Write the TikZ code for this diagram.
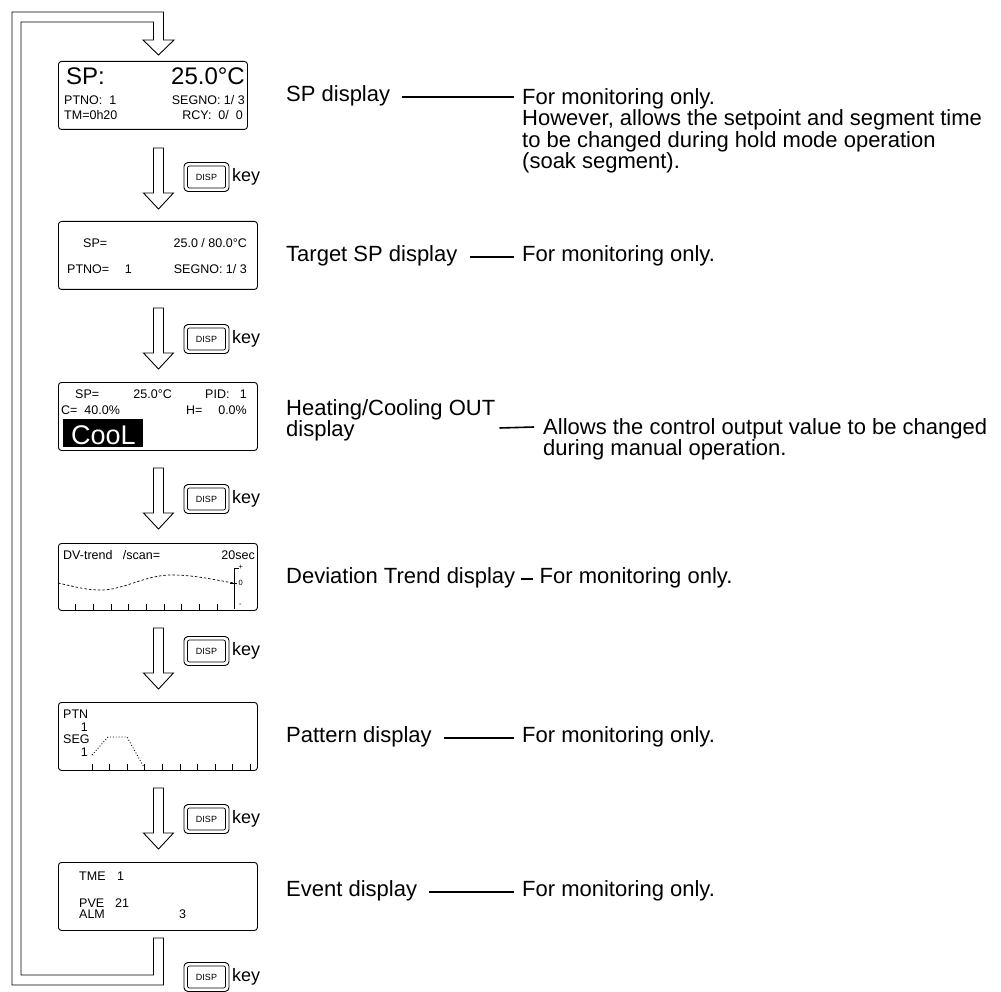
\documentclass[tikz,border=0pt]{standalone}
\usepackage{fontspec}
\setmainfont{Liberation Sans}
\usetikzlibrary{calc}
\tikzset{
  lcd/.style={draw, rounded corners=3pt, line width=0.9pt, minimum height=68pt, inner sep=0pt, anchor=north west},
  sm/.style={font=\fontsize{12.5}{13}\selectfont, inner sep=0pt},
  bigtxt/.style={font=\fontsize{24}{24}\selectfont, inner sep=0pt},
  lbl/.style={font=\fontsize{22}{20.5}\selectfont, inner sep=0pt, align=left},
  keylbl/.style={font=\fontsize{18}{18}\selectfont, inner sep=0pt},
  tiny/.style={font=\fontsize{7.5}{7.5}\selectfont, inner sep=0pt},
  hollow/.style={draw, line width=0.9pt, fill=white},
  keybox/.style={draw, rounded corners=4pt, line width=0.9pt, minimum width=45pt, minimum height=29pt, inner sep=0pt},
  keyin/.style={draw, rounded corners=2pt, line width=0.7pt, minimum width=38pt, minimum height=22pt, inner sep=0pt, font=\fontsize{9}{9}\selectfont},
  conn/.style={line width=1.6pt},
  tick/.style={line width=0.7pt},
}
\newcommand\HollowArrow[2]{% #1 = shaft top y, #2 = centre x
  \draw[hollow] (#2-5,#1) -- (#2-5,#1+45) -- (#2-15,#1+45) -- (#2,#1+61) -- (#2+15,#1+45) -- (#2+5,#1+45) -- (#2+5,#1) -- cycle;}
\newcommand\DispKey[2]{% #1 = name, #2 = centre y
  \node[keybox] (#1) at (206.5,#2) {};
  \node[keyin] (#1in) at (206.5,#2) {DISP};
  \node[keylbl, anchor=west] (#1txt) at (232,#2) {key};}
\begin{document}
\begin{tikzpicture}[x=1pt,y=-1pt]
\useasboundingbox (0,0) rectangle (1001,992);

% ---------- return loop ----------
\draw[hollow] (153.5,938) -- (153.5,975) -- (21,975) -- (21,22) -- (153.5,22) -- (153.5,40)
  -- (143,40) -- (158.5,55) -- (174,40) -- (163.5,40) -- (163.5,12) -- (12,12) -- (12,985)
  -- (163.5,985) -- (163.5,938) -- cycle;

% ---------- displays ----------
\node[lcd, minimum width=189pt] (d1) at (58,61) {};
\node[lcd, minimum width=199pt] (d2) at (58,221) {};
\node[lcd, minimum width=199pt] (d3) at (58,382) {};
\node[lcd, minimum width=199pt, minimum height=67pt] (d4) at (58,543) {};
\node[lcd, minimum width=199pt] (d5) at (58,702) {};
\node[lcd, minimum width=199pt] (d6) at (58,862) {};

% arrows between displays
\HollowArrow{148}{158.5}
\HollowArrow{308}{158.5}
\HollowArrow{468}{158.5}
\HollowArrow{628}{158.5}
\HollowArrow{788}{158.5}

% DISP keys
\DispKey{k1}{177}
\DispKey{k2}{339}
\DispKey{k3}{499}
\DispKey{k4}{651}
\DispKey{k5}{819}
\DispKey{k6}{977}

% ---------- display 1 : SP ----------
\node[bigtxt, anchor=base west] (t1a) at (66,85) {SP:};
\node[bigtxt, anchor=base east] (t1b) at (245,85) {25.0°C};
\node[sm, anchor=base west] (t1c) at (64,105) {PTNO:\ \ 1};
\node[sm, anchor=base east] (t1d) at (245,105) {SEGNO: 1/ 3};
\node[sm, anchor=base west] (t1e) at (64,120) {TM=0h20};
\node[sm, anchor=base east] (t1f) at (243,120) {RCY:\ \ 0/\ \ 0};

% ---------- display 2 : target SP ----------
\node[sm, anchor=base west] (t2a) at (83,248) {SP=};
\node[sm, anchor=base east] (t2b) at (247,248) {25.0 / 80.0°C};
\node[sm, anchor=base west] (t2c) at (67,274) {PTNO=};
\node[sm, anchor=base east] (t2d) at (132,274) {1};
\node[sm, anchor=base east] (t2e) at (247,274) {SEGNO: 1/ 3};

% ---------- display 3 : heating / cooling ----------
\node[sm, anchor=base west] (t3a) at (75,398) {SP=};
\node[sm, anchor=base east] (t3b) at (172,398) {25.0°C};
\node[sm, anchor=base west] (t3c) at (205,398) {PID:};
\node[sm, anchor=base east] (t3d) at (247,398) {1};
\node[sm, anchor=base west] (t3e) at (61,414) {C=\ \ 40.0\%};
\node[sm, anchor=base west] (t3f) at (186,414) {H=};
\node[sm, anchor=base east] (t3g) at (247,414) {0.0\%};
\fill (63,419) rectangle (143,447);
\node[font=\fontsize{27}{27}\selectfont, text=white, inner sep=0pt, anchor=base west] (t3h) at (71,444) {CooL};

% ---------- display 4 : deviation trend ----------
\node[sm, anchor=base west] (t4a) at (63,559) {DV-trend\ \ \ /scan=};
\node[sm, anchor=base east] (t4b) at (255,559) {20sec};
\draw[tick] (234,609) -- (234,568) -- (238.5,568);
\draw[tick] (230,583) -- (237,583);
\node[tiny, anchor=west] (t4p) at (238.5,567) {+};
\node[tiny, anchor=west] (t4z) at (238.5,583) {0};
\node[tiny, anchor=west] (t4m) at (239,605) {-};
\foreach \x in {75.5,93.2,110.9,128.6,146.3,164,181.7,199.4,217.1} \draw[tick] (\x,610) -- (\x,604);
\draw[dashed, dash pattern=on 2.5pt off 2pt, line width=0.7pt] (58,583) .. controls (80,588) and (95,592) .. (112,589)
  .. controls (135,584) and (150,575) .. (172,575) .. controls (195,575) and (215,580) .. (234,583);

% ---------- display 5 : pattern ----------
\node[sm, anchor=base west] (t5a) at (63,718) {PTN};
\node[sm, anchor=base east] (t5b) at (88,731) {1};
\node[sm, anchor=base west] (t5c) at (63,743) {SEG};
\node[sm, anchor=base east] (t5d) at (88,756) {1};
\draw[dotted, line width=0.9pt] (92,755) -- (108,737) -- (127,737) -- (145,769);
\foreach \x in {92,109.6,127.2,144.8,162.4,180,197.6,215.2,232.8,250.4} \draw[tick] (\x,770) -- (\x,764);

% ---------- display 6 : event ----------
\node[sm, anchor=base west] (t6a) at (79,880) {TME};
\node[sm, anchor=base west] (t6b) at (117,880) {1};
\node[sm, anchor=base west] (t6c) at (79,907) {PVE};
\node[sm, anchor=base west] (t6d) at (115,907) {21};
\node[sm, anchor=base west] (t6e) at (79,918) {ALM};
\node[sm, anchor=base west] (t6f) at (179,918) {3};

% ---------- right-hand labels ----------
\node[lbl, anchor=west] (l1) at (286,96) {SP display};
\node[lbl, anchor=north west] (r1) at (522,88) {For monitoring only.\\However, allows the setpoint and segment time\\to be changed during hold mode operation\\(soak segment).};
\draw[conn] ($(l1.east)+(12,1)$) -- ($(r1.north west)+(-8,9)$);

\node[lbl, anchor=west] (l2) at (286,256) {Target SP display};
\node[lbl, anchor=west] (r2) at (522,256) {For monitoring only.};
\draw[conn] ($(l2.east)+(12,1)$) -- ($(r2.west)+(-8,1)$);

\node[lbl, anchor=north west] (l3) at (286,399) {Heating/Cooling OUT\\display};
\node[lbl, anchor=north west] (r3) at (543,418) {Allows the control output value to be changed\\during manual operation.};
\draw[conn] ($(l3.north east)+(4,29)$) -- ($(r3.north west)+(-9,9)$);

\node[lbl, anchor=west] (l4) at (286,578) {Deviation Trend display};
\node[lbl, anchor=west] (r4) at ($(l4.east)+(24,0)$) {For monitoring only.};
\draw[conn] ($(l4.east)+(6,1)$) -- ($(r4.west)+(-6,1)$);

\node[lbl, anchor=west] (l5) at (286,737) {Pattern display};
\node[lbl, anchor=west] (r5) at (522,737) {For monitoring only.};
\draw[conn] ($(l5.east)+(12,1)$) -- ($(r5.west)+(-8,1)$);

\node[lbl, anchor=west] (l6) at (286,891) {Event display};
\node[lbl, anchor=west] (r6) at (522,891) {For monitoring only.};
\draw[conn] ($(l6.east)+(12,1)$) -- ($(r6.west)+(-8,1)$);
\end{tikzpicture}
\end{document}
